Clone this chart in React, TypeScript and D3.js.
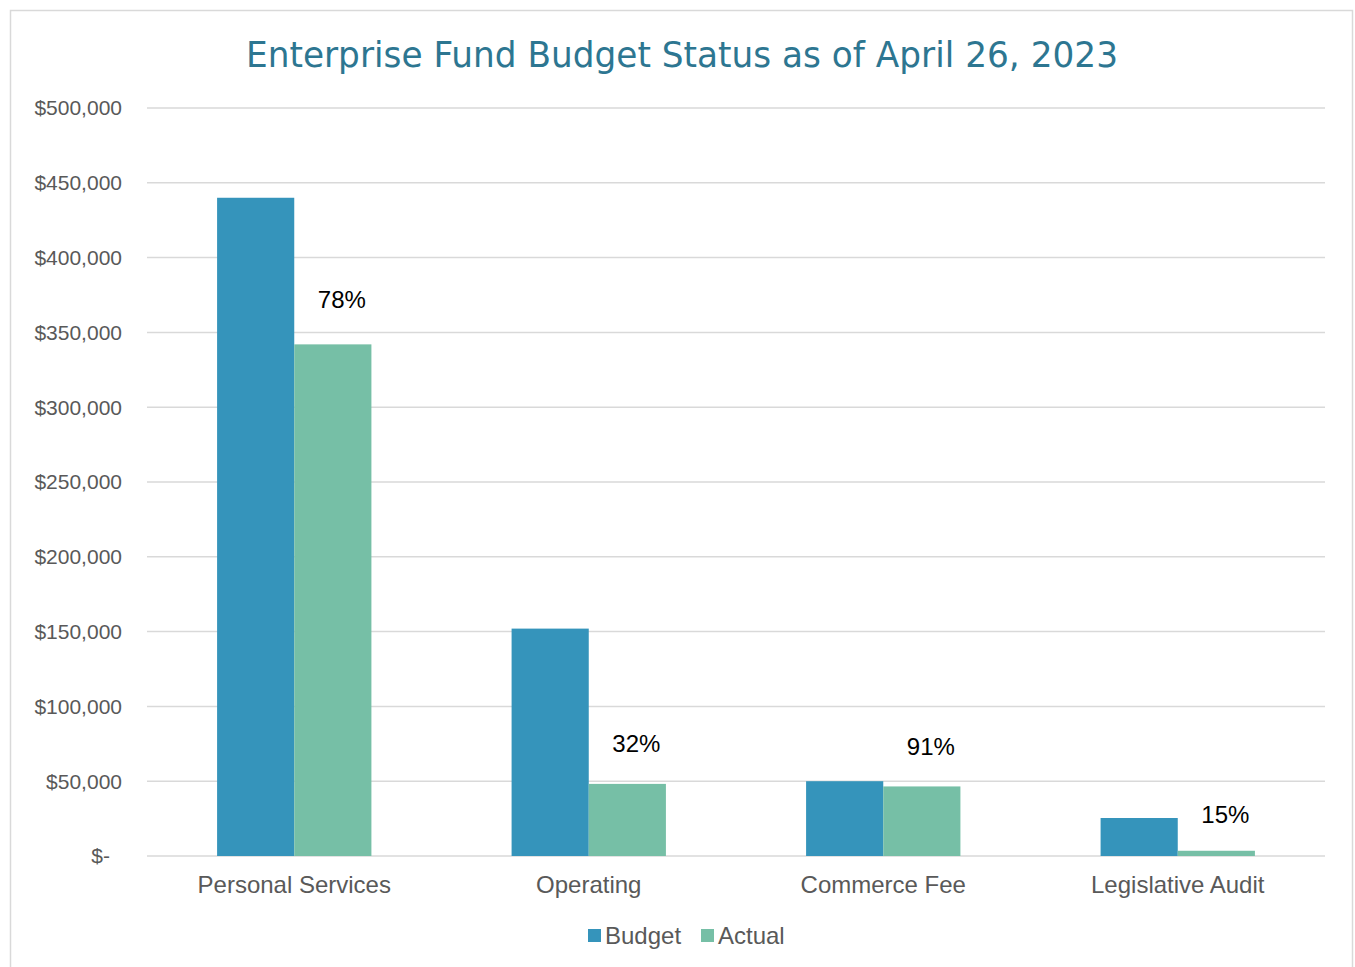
import React from "react";
import * as d3 from "d3";

const categories = ["Personal Services", "Operating", "Commerce Fee", "Legislative Audit"];
const budget = [440000, 152000, 50000, 25400];
const actual = [342000, 48200, 46500, 3500];
const pctLabels = ["78%", "32%", "91%", "15%"];
const pctLabelAnchors = [372000, 75000, 73000, 28000];
const yTicks = [0, 50000, 100000, 150000, 200000, 250000, 300000, 350000, 400000, 450000, 500000];
const seriesNames = ["Budget", "Actual"];
const colors = ["#3594bb", "#76bfa6"];

const W = 1355;
const H = 967;
const plotLeft = 147;
const plotRight = 1325;
const plotTop = 108;
const plotBottom = 856;

export default function App() {
  const y = d3.scaleLinear().domain([0, 500000]).range([plotBottom, plotTop]);
  const x = d3.scaleBand().domain(categories).range([plotLeft, plotRight]).paddingInner(0.476).paddingOuter(0.238);
  const inner = d3.scaleBand().domain(seriesNames).range([0, x.bandwidth()]);
  const fmt = (v: number) => (v === 0 ? "$-" : "$" + d3.format(",")(v));
  const font = "'Liberation Sans', Arial, sans-serif";

  return (
    <svg width={W} height={H} style={{ position: "absolute", left: 0, top: 0, background: "#fff" }}>
      <rect x={10.5} y={10.5} width={1342} height={H + 10} fill="#fff" stroke="#d9d9d9" strokeWidth={1.5} />
      <text x={682} y={67} textAnchor="middle" fontFamily="'Century Gothic', 'DejaVu Sans', sans-serif" fontSize={35} fill="#2d7691" textLength={872} lengthAdjust="spacingAndGlyphs">
        Enterprise Fund Budget Status as of April 26, 2023
      </text>
      {yTicks.map((t) => (
        <g key={t}>
          <line x1={plotLeft} x2={plotRight} y1={y(t)} y2={y(t)} stroke="#d9d9d9" strokeWidth={1.5} />
          <text x={t === 0 ? 110 : 122} y={y(t)} dy="0.35em" textAnchor="end" fontFamily={font} fontSize={21} fill="#595959">
            {fmt(t)}
          </text>
        </g>
      ))}
      {categories.map((c, i) => {
        const bx = x(c)!;
        const ax = bx + inner("Actual")!;
        return (
          <g key={c}>
            <rect x={bx + inner("Budget")!} y={y(budget[i])} width={inner.bandwidth()} height={plotBottom - y(budget[i])} fill={colors[0]} />
            <rect x={ax} y={y(actual[i])} width={inner.bandwidth()} height={plotBottom - y(actual[i])} fill={colors[1]} />
            <text x={ax + inner.bandwidth() / 2 + 9} y={y(pctLabelAnchors[i])} dy="0.35em" textAnchor="middle" fontFamily={font} fontSize={24} fill="#000">
              {pctLabels[i]}
            </text>
            <text x={bx + x.bandwidth() / 2} y={885} dy="0.35em" textAnchor="middle" fontFamily={font} fontSize={24} fill="#595959">
              {c}
            </text>
          </g>
        );
      })}
      <g>
        <rect x={588} y={929} width={13} height={13} fill={colors[0]} />
        <text x={605} y={936} dy="0.35em" fontFamily={font} fontSize={24} fill="#595959">Budget</text>
        <rect x={701} y={929} width={13} height={13} fill={colors[1]} />
        <text x={718} y={936} dy="0.35em" fontFamily={font} fontSize={24} fill="#595959">Actual</text>
      </g>
    </svg>
  );
}
